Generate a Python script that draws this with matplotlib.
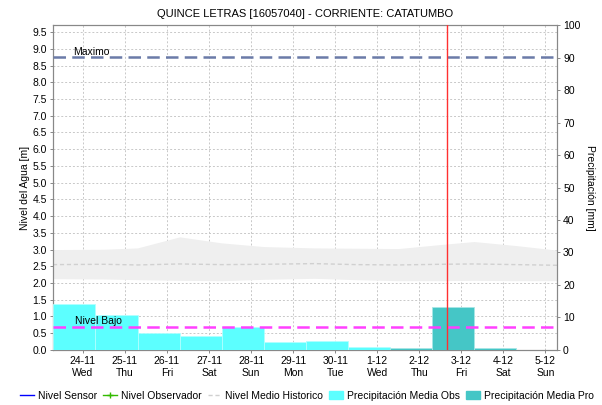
import numpy as np
import matplotlib.pyplot as plt
from matplotlib.lines import Line2D
from matplotlib.patches import Patch
from matplotlib.transforms import blended_transform_factory

# fechas (eje x en dias desde 24-11 00:00)
fechas = ['24-11', '25-11', '26-11', '27-11', '28-11', '29-11',
          '30-11', '1-12', '2-12', '3-12', '4-12', '5-12']
dias_sem = ['Wed', 'Thu', 'Fri', 'Sat', 'Sun', 'Mon',
            'Tue', 'Wed', 'Thu', 'Fri', 'Sat', 'Sun']

# precipitacion diaria [mm] (periodos que empiezan a las ~7h)
precip_obs_inicio = [-0.7, 0.3, 1.3, 2.3, 3.3, 4.3, 5.3, 6.3]
precip_obs = [14.2, 10.8, 5.3, 4.4, 7.2, 2.3, 2.6, 1.0]
precip_pro_inicio = [7.3, 8.3, 9.3]
precip_pro = [0.5, 13.3, 0.7]

# banda historica y nivel medio historico [m]
hist_x = [-0.71, 0.5, 1.3, 2.3, 3.3, 4.3, 5.5, 6.5, 7.5, 8.5, 9.3, 10.3, 11.3]
hist_sup = [3.00, 3.01, 3.05, 3.38, 3.20, 3.09, 3.05, 3.04, 3.03, 3.15, 3.24, 3.12, 2.98]
hist_inf = [2.13, 2.12, 2.10, 2.08, 2.07, 2.11, 2.14, 2.10, 2.07, 2.07, 2.08, 2.07, 2.07]
hist_medio = [2.55, 2.56, 2.54, 2.57, 2.55, 2.56, 2.58, 2.55, 2.54, 2.56, 2.57, 2.55, 2.53]

nivel_maximo = 8.75
nivel_bajo = 0.7
ahora = 8.65

plt.rcParams['font.family'] = 'Liberation Sans'
plt.rcParams['font.size'] = 7.5

fig = plt.figure(figsize=(6.02, 4.05), dpi=100)
ax = fig.add_axes([0.088, 0.136, 0.837, 0.802])
ax2 = ax.twinx()

# fondo: banda historica + grilla
ax.fill_between(hist_x, hist_inf, hist_sup, color='#efefef', lw=0, zorder=1)
ax.plot(hist_x, hist_medio, color='#d0d0d0', lw=1, ls=(0, (3, 2)), zorder=2)
ax.set_xticks(range(len(fechas)))
ax.set_xticklabels([f + '\n' + d for f, d in zip(fechas, dias_sem)])
ax.set_yticks(np.arange(0, 10, 0.5))
ax.set_yticklabels(['%.1f' % v for v in np.arange(0, 10, 0.5)])
ax.grid(True, color='#c8c8c8', ls=(0, (2, 2)), lw=0.7)
ax.set_axisbelow(True)
ax.set_xlim(-0.71, 11.27)
ax.set_ylim(0, 9.71)
ax.set_ylabel('Nivel del Agua [m]', va='center')
ax.yaxis.set_label_coords(-0.055, 0.5)

# barras de precipitacion (eje derecho)
ax2.bar(precip_obs_inicio, precip_obs, width=1, align='edge',
        color='#5cffff', edgecolor='#b0ffff', lw=0.6, zorder=3)
ax2.bar(precip_pro_inicio, precip_pro, width=1, align='edge',
        color='#45c6c6', edgecolor='#a8e6e6', lw=0.6, zorder=3)
ax2.set_ylim(0, 100)
ax2.set_yticks(range(0, 101, 10))
ax2.set_ylabel('Precipitación [mm]', rotation=-90, va='center')
ax2.yaxis.set_label_coords(1.066, 0.5)

# umbrales (en metros, sobre las barras) y linea de tiempo actual
trans_m = blended_transform_factory(ax.transAxes, ax.transData)
ax2.plot([0, 1], [nivel_maximo, nivel_maximo], color='#6b7ba8', lw=1.8,
         ls=(0, (5, 2.5)), transform=trans_m, zorder=4)
ax2.plot([0, 1], [nivel_bajo, nivel_bajo], color='#ff40ff', lw=1.8,
         ls=(0, (5, 2.5)), transform=trans_m, zorder=4)
ax2.axvline(ahora, color='#ff3030', lw=1, zorder=5)
ax2.text(-0.23, nivel_maximo + 0.07, 'Maximo', transform=ax.transData, fontsize=7.5)
ax2.text(-0.19, nivel_bajo + 0.07, 'Nivel Bajo', transform=ax.transData, fontsize=7.5)

ax2.set_zorder(ax.get_zorder() + 1)
ax2.patch.set_visible(False)

for a in (ax, ax2):
    for s in a.spines.values():
        s.set_color('#888888')
    a.tick_params(colors='black', length=2.5, width=0.7, labelsize=7.5,
                  color='#888888', pad=2)

ax.set_title('QUINCE LETRAS [16057040] - CORRIENTE: CATATUMBO', fontsize=8, pad=6)

# leyenda (series del sensor y observador sin datos)
handles = [
    Line2D([], [], color='#0000ff', lw=1),
    Line2D([], [], color='#33bb00', lw=1, marker='+', markersize=4),
    Line2D([], [], color='#d0d0d0', lw=1, ls=(0, (3, 2))),
    Patch(color='#5cffff'),
    Patch(color='#45c6c6'),
]
labels = ['Nivel Sensor', 'Nivel Observador', 'Nivel Medio Historico',
          'Precipitación Media Obs', 'Precipitación Media Pro']
fig.legend(handles, labels, loc='center', bbox_to_anchor=(0.51, 0.023), ncol=5,
           frameon=False, fontsize=7.5, handlelength=1.3, handletextpad=0.4,
           columnspacing=0.6, handleheight=0.9, borderpad=0, borderaxespad=0)

fig.savefig('out.png', dpi=100)
